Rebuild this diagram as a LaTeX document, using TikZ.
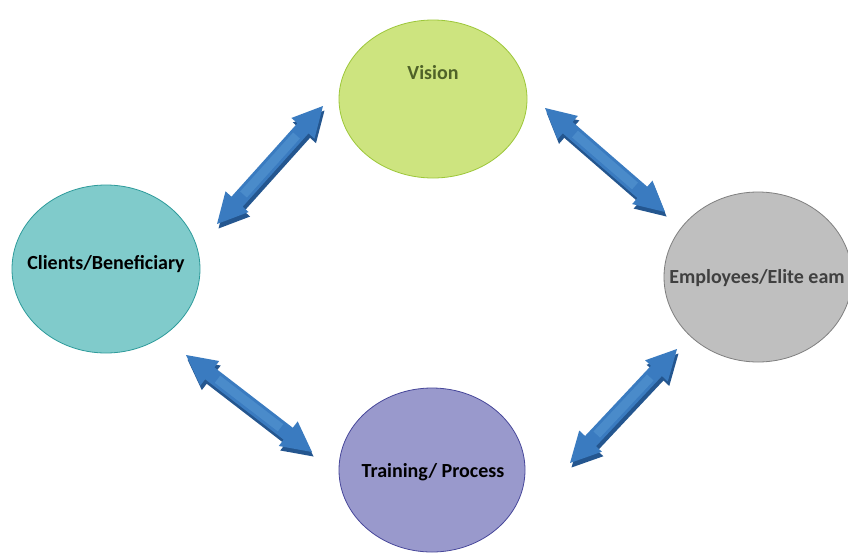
\documentclass[tikz,border=0pt]{standalone}
\usepackage{fontspec}
\setmainfont{Carlito}
\usetikzlibrary{calc,shapes.geometric}
\definecolor{visfill}{HTML}{CDE47F}
\definecolor{visdraw}{HTML}{9DC73A}
\definecolor{vistext}{HTML}{4F6228}
\definecolor{clifill}{HTML}{80CBCB}
\definecolor{clidraw}{HTML}{2E9B9B}
\definecolor{empfill}{HTML}{BFBFBF}
\definecolor{empdraw}{HTML}{7F7F7F}
\definecolor{emptext}{HTML}{404040}
\definecolor{trafill}{HTML}{9999CC}
\definecolor{tradraw}{HTML}{47479A}
\definecolor{arrmain}{HTML}{3A7BC0}
\definecolor{arrlight}{HTML}{5E9FD8}
\definecolor{arrshadow}{HTML}{24568F}
\def\arrshape#1#2{(#1) -- ($(#1)!30pt!(#2)!15.5pt!90:(#2)$) -- ($(#1)!30pt!(#2)!7.5pt!90:(#2)$) -- ($(#2)!30pt!(#1)!7.5pt!-90:(#1)$) -- ($(#2)!30pt!(#1)!15.5pt!-90:(#1)$) -- (#2) -- ($(#2)!30pt!(#1)!15.5pt!90:(#1)$) -- ($(#2)!30pt!(#1)!7.5pt!90:(#1)$) -- ($(#1)!30pt!(#2)!7.5pt!-90:(#2)$) -- ($(#1)!30pt!(#2)!15.5pt!-90:(#2)$) -- cycle}
\newcommand\dblarr[2]{%
  \fill[arrshadow, transform canvas={shift={(1.5pt,-4.5pt)}}] \arrshape{#1}{#2};
  \fill[arrmain] \arrshape{#1}{#2};
  \draw[arrlight, line width=9pt, opacity=.45] ($(#1)!0.25!(#2)$) -- ($(#1)!0.75!(#2)$);
}
\tikzset{
  bubble/.style={ellipse, inner sep=0pt, line width=0.8pt, minimum width=188pt, minimum height=164pt},
  lbl/.style={font=\bfseries\fontsize{20}{24}\selectfont, inner sep=0pt}
}
\begin{document}
\begin{tikzpicture}[x=1pt,y=-1pt]
\useasboundingbox (0,0) rectangle (848,554);
\fill[white] (0,0) rectangle (848,554);
\node[bubble, fill=visfill, draw=visdraw, minimum height=158pt] (vision) at (433,99) {};
\node[bubble, fill=clifill, draw=clidraw, minimum height=168pt] (clients) at (106,269) {};
\node[bubble, fill=empfill, draw=empdraw, minimum height=170pt] (employees) at (758,277) {};
\node[bubble, fill=trafill, draw=tradraw, minimum width=186pt] (training) at (432,470) {};
\node[lbl, text=vistext] (tvision) at (433,73) {Vision};
\node[lbl, text=black] (tclients) at (106,264) {Clients/Beneficiary};
\node[lbl, text=emptext] (temployees) at (757,278) {Employees/Elite eam};
\node[lbl, text=black] (ttraining) at (433,472) {Training/ Process};
\coordinate (a1s) at (217,224);
\coordinate (a1e) at (323,106);
\coordinate (a2s) at (545,108);
\coordinate (a2e) at (665,212);
\coordinate (a3s) at (186,355);
\coordinate (a3e) at (312,452);
\coordinate (a4s) at (570,463);
\coordinate (a4e) at (677,349);
\dblarr{a1s}{a1e}
\dblarr{a2s}{a2e}
\dblarr{a3s}{a3e}
\dblarr{a4s}{a4e}
\end{tikzpicture}
\end{document}
